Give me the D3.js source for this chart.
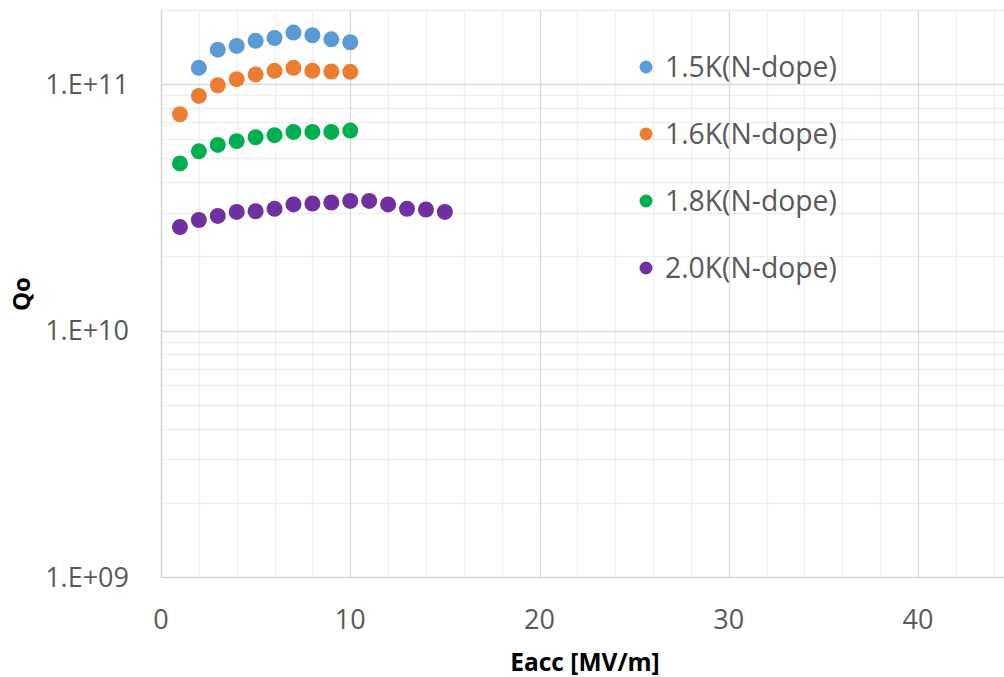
<!DOCTYPE html>
<html>
<head>
<meta charset="utf-8">
<script src="https://cdn.jsdelivr.net/npm/d3@7"></script>
<style>
  html, body { margin: 0; padding: 0; background: #fff; }
  svg { display: block; }
</style>
</head>
<body>
<svg id="chart" width="1004" height="677"></svg>
<script>
// Qo versus accelerating gradient for an N-doped cavity at four bath temperatures
const eacc = [1, 2, 3, 4, 5, 6, 7, 8, 9, 10, 11, 12, 13, 14, 15];

const q15K = [null, 1.165e11, 1.38e11, 1.43e11, 1.50e11, 1.54e11, 1.62e11, 1.58e11, 1.52e11, 1.48e11];
const q16K = [7.55e10, 8.96e10, 9.9e10, 1.048e11, 1.095e11, 1.133e11, 1.165e11, 1.133e11, 1.126e11, 1.122e11];
const q18K = [4.77e10, 5.34e10, 5.67e10, 5.87e10, 6.09e10, 6.21e10, 6.40e10, 6.40e10, 6.40e10, 6.48e10];
const q20K = [2.63e10, 2.81e10, 2.92e10, 3.03e10, 3.05e10, 3.12e10, 3.25e10, 3.28e10, 3.31e10, 3.36e10, 3.36e10, 3.25e10, 3.12e10, 3.10e10, 3.03e10];

const seriesNames = ["1.5K(N-dope)", "1.6K(N-dope)", "1.8K(N-dope)", "2.0K(N-dope)"];
const seriesColors = ["#5b9bd5", "#ed7d31", "#00b050", "#7030a0"];
const seriesValues = [q15K, q16K, q18K, q20K];

const xTicks = [0, 10, 20, 30, 40];
const yTicks = [1e9, 1e10, 1e11];
const yTickLabels = ["1.E+09", "1.E+10", "1.E+11"];

const svg = d3.select("#chart");
const W = 1004, H = 677;
const plot = { left: 161, top: 10, bottom: 577 };
const unit = (918 - 161) / 40;

const x = d3.scaleLinear().domain([0, 45]).range([plot.left, plot.left + 45 * unit]);
const y = d3.scaleLog().domain([1e9, 2e11]).range([plot.bottom, plot.top]);

const font = "'Open Sans', sans-serif";
const right = W;

// minor grid
const minorY = [];
for (let d = 1e9; d < 2e11; d *= 10) {
  for (let k = 2; k <= 9; k++) {
    const v = d * k;
    if (v <= 2e11) minorY.push(v);
  }
}
const minorX = d3.range(2, 46, 2).filter(v => v % 10 !== 0);

const grid = svg.append("g");
grid.selectAll("line.hminor").data(minorY).join("line")
  .attr("x1", plot.left).attr("x2", right)
  .attr("y1", d => Math.round(y(d)) + 0.5).attr("y2", d => Math.round(y(d)) + 0.5)
  .attr("stroke", "#efefef").attr("stroke-width", 1.3);
grid.selectAll("line.vminor").data(minorX).join("line")
  .attr("x1", d => Math.round(x(d)) + 0.5).attr("x2", d => Math.round(x(d)) + 0.5)
  .attr("y1", plot.top).attr("y2", plot.bottom)
  .attr("stroke", "#efefef").attr("stroke-width", 1.3);
grid.selectAll("line.hmajor").data(yTicks.slice(1)).join("line")
  .attr("x1", plot.left).attr("x2", right)
  .attr("y1", d => Math.round(y(d)) + 0.5).attr("y2", d => Math.round(y(d)) + 0.5)
  .attr("stroke", "#d9d9d9").attr("stroke-width", 1.3);
grid.selectAll("line.vmajor").data(xTicks.slice(1)).join("line")
  .attr("x1", d => Math.round(x(d)) + 0.5).attr("x2", d => Math.round(x(d)) + 0.5)
  .attr("y1", plot.top).attr("y2", plot.bottom)
  .attr("stroke", "#d9d9d9").attr("stroke-width", 1.3);

// axis lines
svg.append("line").attr("x1", plot.left + 0.5).attr("x2", plot.left + 0.5)
  .attr("y1", plot.top).attr("y2", plot.bottom + 1)
  .attr("stroke", "#d4d4d4").attr("stroke-width", 1.5);
svg.append("line").attr("x1", plot.left).attr("x2", right)
  .attr("y1", plot.bottom + 0.5).attr("y2", plot.bottom + 0.5)
  .attr("stroke", "#d4d4d4").attr("stroke-width", 1.5);

// tick labels
svg.append("g").selectAll("text").data(yTicks).join("text")
  .attr("x", 129).attr("y", d => y(d))
  .attr("dy", "0.36em")
  .attr("text-anchor", "end")
  .attr("font-family", font).attr("font-size", 27).attr("fill", "#595959")
  .text((d, i) => yTickLabels[i]);

svg.append("g").selectAll("text").data(xTicks).join("text")
  .attr("x", d => x(d)).attr("y", 629)
  .attr("text-anchor", "middle")
  .attr("font-family", font).attr("font-size", 27).attr("fill", "#595959")
  .text(d => d);

// axis titles
svg.append("text").attr("x", 585).attr("y", 671)
  .attr("text-anchor", "middle")
  .attr("font-family", font).attr("font-size", 24.5).attr("font-weight", "bold").attr("fill", "#000")
  .text("Eacc [MV/m]");
svg.append("text")
  .attr("transform", "translate(30,294) rotate(-90)")
  .attr("text-anchor", "middle")
  .attr("font-family", font).attr("font-size", 24).attr("font-weight", "bold").attr("fill", "#000")
  .text("Qo");

// data points
const marks = svg.append("g");
seriesValues.forEach((vals, si) => {
  const pts = vals.map((v, i) => ({ e: eacc[i], q: v })).filter(p => p.q != null);
  marks.append("g").selectAll("circle").data(pts).join("circle")
    .attr("cx", p => x(p.e)).attr("cy", p => y(p.q))
    .attr("r", 8)
    .attr("fill", seriesColors[si]);
});

// legend
const legend = svg.append("g");
const legendRows = [67, 134, 201, 268];
seriesNames.forEach((name, i) => {
  legend.append("circle").attr("cx", 646).attr("cy", legendRows[i]).attr("r", 6.5)
    .attr("fill", seriesColors[i]);
  legend.append("text").attr("x", 665).attr("y", legendRows[i])
    .attr("dy", "0.36em")
    .attr("font-family", font).attr("font-size", 28.3).attr("fill", "#595959")
    .text(name);
});
</script>
</body>
</html>
